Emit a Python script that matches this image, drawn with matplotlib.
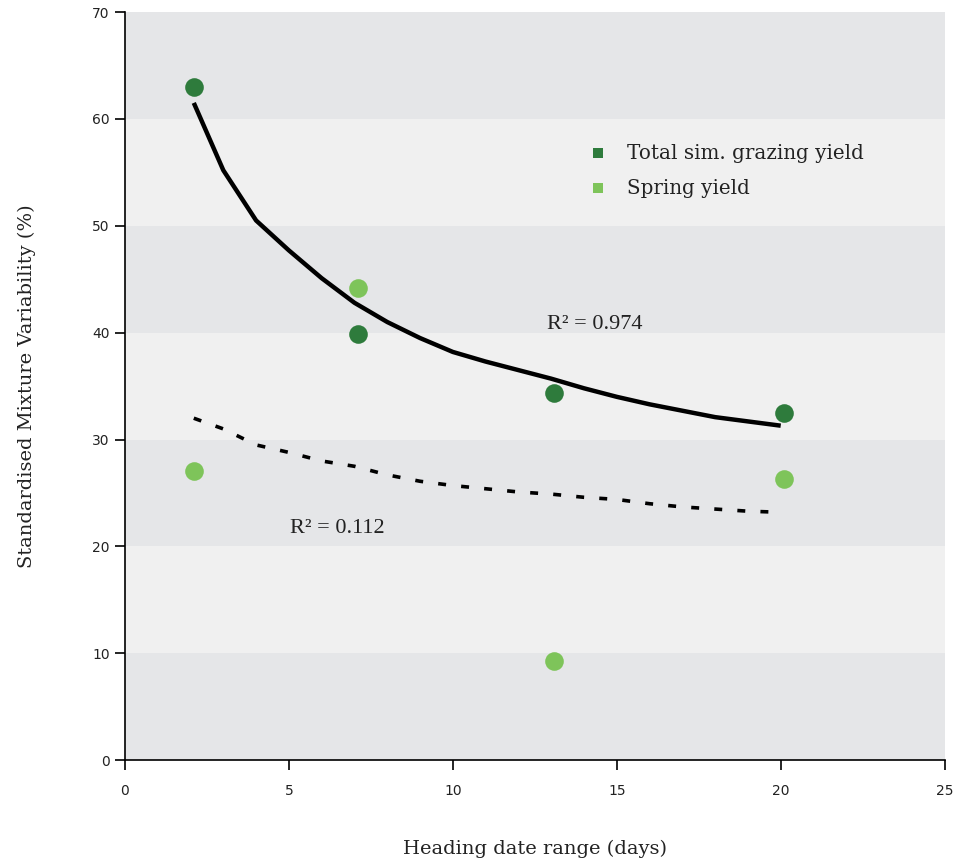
import matplotlib
matplotlib.use("Agg")
import matplotlib.pyplot as plt
import numpy as np

# Data
heading_range = [2.1, 7.1, 13.1, 20.1]
total_yield_var = [63.0, 39.9, 34.4, 32.5]
spring_yield_var = [27.1, 44.2, 9.3, 26.3]

# Trend lines
trend_x = [2.1, 3, 4, 5, 6, 7, 8, 9, 10, 11, 12, 13, 14, 15, 16, 17, 18, 19, 20]
total_trend = [61.5, 55.2, 50.5, 47.7, 45.1, 42.8, 41.0, 39.5, 38.2, 37.3, 36.5,
               35.7, 34.8, 34.0, 33.3, 32.7, 32.1, 31.7, 31.3]
spring_trend = [32.0, 31.0, 29.5, 28.8, 28.0, 27.5, 26.7, 26.1, 25.7, 25.4, 25.1,
                24.9, 24.6, 24.4, 24.0, 23.7, 23.5, 23.3, 23.2]

r2_total = "R\u00b2 = 0.974"
r2_spring = "R\u00b2 = 0.112"

x_ticks = [0, 5, 10, 15, 20, 25]
y_ticks = [0, 10, 20, 30, 40, 50, 60, 70]

dark_green = "#2e7b3c"
light_green = "#7ec45a"
band_dark = "#e5e6e8"
band_light = "#f0f0f0"

fig = plt.figure(figsize=(9.61, 8.6), dpi=100)
ax = fig.add_axes([0.130, 0.116, 0.853, 0.870])

ax.set_xlim(0, 25)
ax.set_ylim(0, 70)

# horizontal bands
for i, lo in enumerate(y_ticks[:-1]):
    ax.axhspan(lo, lo + 10, color=band_dark if i % 2 == 0 else band_light, zorder=0, lw=0)

ax.plot(trend_x, total_trend, color="black", lw=3.2, zorder=3, solid_capstyle="butt")
ax.plot(trend_x, spring_trend, color="black", lw=2.6, zorder=3,
        linestyle=(0, (2.2, 4.2)))

ax.scatter(heading_range, total_yield_var, s=180, color=dark_green, marker="o",
           zorder=4, linewidths=0)
ax.scatter(heading_range, spring_yield_var, s=180, color=light_green, marker="o",
           zorder=4, linewidths=0)

# legend
ax.scatter([14.42], [56.8], s=60, color=dark_green, marker="s", zorder=5, linewidths=0)
ax.scatter([14.42], [53.5], s=60, color=light_green, marker="s", zorder=5, linewidths=0)
ax.text(15.3, 56.8, "Total sim. grazing yield", fontsize=14.3, family="DejaVu Serif",
        va="center", ha="left", color="#222222")
ax.text(15.3, 53.5, "Spring yield", fontsize=14.3, family="DejaVu Serif",
        va="center", ha="left", color="#222222")

ax.text(12.87, 40.8, r2_total, fontsize=16, family="Liberation Serif",
        ha="left", va="center", color="#222222")
ax.text(5.03, 21.7, r2_spring, fontsize=16, family="Liberation Serif",
        ha="left", va="center", color="#222222")

for s in ["top", "right"]:
    ax.spines[s].set_visible(False)
for s in ["left", "bottom"]:
    ax.spines[s].set_color("black")
    ax.spines[s].set_linewidth(1.2)

ax.set_xticks(x_ticks)
ax.set_yticks(y_ticks)
ax.tick_params(axis="both", direction="out", length=7, width=1.2, color="black",
               labelsize=10, labelcolor="#222222")
ax.tick_params(axis="x", pad=10)
ax.tick_params(axis="y", pad=4)

ax.set_xlabel("Heading date range (days)", fontsize=14, family="DejaVu Serif",
              labelpad=30, color="#222222")
ax.set_ylabel("Standardised Mixture Variability (%)", fontsize=14, family="DejaVu Serif",
              labelpad=40, color="#222222")

fig.savefig("out.png", dpi=100)
